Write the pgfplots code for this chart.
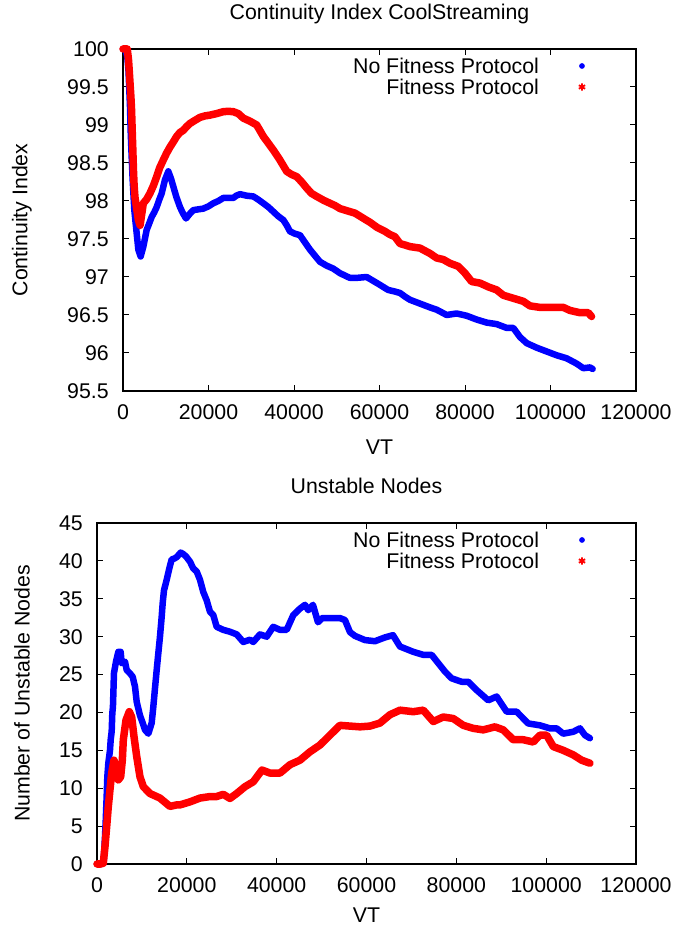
\documentclass[border=0pt]{standalone}
\usepackage{fontspec}
\setmainfont{Liberation Sans}
\usepackage{pgfplots}
\pgfplotsset{compat=1.18}

\pgfplotsset{
  gp/.style={
    scale only axis, clip=false,
    axis line style={line width=1.1bp, black},
    every tick/.style={line width=1bp, black},
    major tick length=6bp,
    tick align=inside,
    xmin=0, xmax=120000, xtick distance=20000,
    scaled x ticks=false,
    /pgf/number format/assume math mode=true,
    xticklabel style={/pgf/number format/fixed, /pgf/number format/precision=0,
      /pgf/number format/1000 sep={}, yshift=-6bp},
    yticklabel style={/pgf/number format/fixed, xshift=-7bp},
    title style={at={(axis description cs:0.5,1)}, anchor=base, yshift=24bp},
    legend cell align=right,
    legend plot pos=right,
    legend image code/.code={\path[draw=none, fill=none] (0bp,0bp) rectangle (48bp,0.1bp);
      \draw[##1] plot coordinates {(40bp,0bp)};},
    legend style={draw=none, fill=none, anchor=north east, inner sep=0pt, outer sep=0pt,
      row sep=0pt, nodes={inner xsep=3bp, inner ysep=3bp, text height=15bp, text depth=0pt}},
  },
  noline/.style={blue, line width=6.5bp, line join=round, line cap=round, forget plot},
  fline/.style={red, line width=7.5bp, line join=round, line cap=round, forget plot},
}

\begin{document}
\fontsize{21.3bp}{25bp}\selectfont
\begin{tikzpicture}
\useasboundingbox (0,0) rectangle (678bp,930bp);

% ---------------- top: continuity index ----------------
\begin{axis}[gp,
  at={(123bp,539bp)}, anchor=south west,
  width=513bp, height=342bp,
  ymin=95.5, ymax=100, ytick distance=0.5,
  title={Continuity Index CoolStreaming},
  xlabel={VT}, ylabel={Continuity Index},
  xlabel style={at={(axis description cs:0.5,0)}, anchor=center, yshift=-56bp},
  ylabel style={at={(axis description cs:-0.197,0.5)}, anchor=center},
  legend style={at={(axis description cs:0.9103,0.981)}},
]
\addlegendimage{blue, mark=*, mark size=2.6bp}
\addlegendentry{No Fitness Protocol}
\addlegendimage{red, mark=asterisk, mark size=3.6bp, line width=1.8bp}
\addlegendentry{Fitness Protocol}

\addplot[noline] table {
0 100
500 100
1000 99.9
1300 99.7
1480 99.46
1640 99.24
1790 98.93
2030 98.58
2260 98.28
2650 97.88
3120 97.62
3590 97.36
4130 97.27
4760 97.4
5540 97.62
6100 97.7
6710 97.79
7300 97.85
7880 97.92
8500 98.02
9050 98.1
9820 98.28
10600 98.39
11200 98.3
11770 98.19
12500 98.05
13330 97.92
14000 97.84
14740 97.77
15600 97.83
16450 97.88
17600 97.89
18790 97.9
20000 97.93
21120 97.97
22300 98.0
23460 98.04
24600 98.04
25800 98.04
26500 98.07
27370 98.09
28900 98.07
30480 98.06
31600 98.02
32820 97.97
34000 97.92
35160 97.86
36300 97.8
37500 97.75
38300 97.68
39060 97.6
40200 97.57
41400 97.55
42500 97.46
43740 97.36
44900 97.28
46080 97.2
47600 97.15
49200 97.11
50760 97.05
53000 96.99
55000 96.99
57000 97.0
58500 96.95
60000 96.9
62000 96.83
63500 96.81
64790 96.79
66000 96.74
67130 96.7
69470 96.65
71800 96.6
73370 96.57
75710 96.5
78050 96.52
80390 96.49
82730 96.44
85070 96.4
87400 96.38
89750 96.33
91300 96.33
92860 96.21
94420 96.13
96760 96.07
99100 96.02
101440 95.97
103780 95.93
106120 95.86
107670 95.8
109230 95.81
109860 95.79
};

\addplot[fline] table {
0 100
500 100
1000 100
1300 99.85
1500 99.68
1700 99.5
1850 99.37
2000 99.2
2150 98.93
2300 98.67
2450 98.4
2600 98.2
2800 98.05
3200 97.9
3600 97.75
4000 97.68
4750 97.97
5500 98.02
6300 98.1
7100 98.2
7880 98.32
8600 98.44
9430 98.54
10200 98.63
11000 98.71
11800 98.78
12560 98.85
13300 98.9
14100 98.93
14900 98.98
15670 99.02
16800 99.06
18000 99.1
19200 99.12
20350 99.13
21900 99.15
23460 99.175
24600 99.18
25800 99.175
26970 99.15
28140 99.09
29700 99.05
31270 99.0
32000 98.93
32820 98.85
34000 98.76
35160 98.67
36700 98.54
38290 98.39
39400 98.35
40630 98.32
41800 98.25
42970 98.17
44100 98.1
45300 98.06
46900 98.01
48420 97.97
49600 97.94
50760 97.9
52500 97.87
54270 97.84
56000 97.78
57770 97.72
59500 97.65
61280 97.6
62400 97.56
63600 97.53
64790 97.44
66000 97.42
67130 97.4
69470 97.38
71800 97.31
73370 97.25
74920 97.23
76490 97.18
78430 97.14
80000 97.05
81560 96.94
83500 96.92
85450 96.87
87400 96.83
88950 96.76
91300 96.72
93630 96.68
95200 96.62
97540 96.6
100650 96.6
103000 96.6
104550 96.56
106900 96.53
108830 96.53
109600 96.48
};
\end{axis}

% ---------------- bottom: unstable nodes ----------------
\begin{axis}[gp,
  at={(97bp,66bp)}, anchor=south west,
  width=539bp, height=341bp,
  ymin=0, ymax=45, ytick distance=5,
  title={Unstable Nodes},
  xlabel={VT}, ylabel={Number of Unstable Nodes},
  xlabel style={at={(axis description cs:0.5,0)}, anchor=center, yshift=-51.5bp},
  ylabel style={at={(axis description cs:-0.139,0.5)}, anchor=center},
  legend style={at={(axis description cs:0.9147,0.981)}},
]
\addlegendimage{blue, mark=*, mark size=2.6bp}
\addlegendentry{No Fitness Protocol}
\addlegendimage{red, mark=asterisk, mark size=3.6bp, line width=1.8bp}
\addlegendentry{Fitness Protocol}

\addplot[noline] table {
0 0
1000 0
1500 0.5
1780 3.6
1950 5.8
2150 8.9
2300 11.5
2520 13.3
2890 15.0
3050 16.4
3270 17.5
3410 19.9
3550 20.75
3630 22.3
3780 25.2
4230 26.7
4750 28.0
5270 28.0
5500 26.5
6230 26.7
6610 25.6
7350 25.15
7950 24.7
8460 23.4
8840 21.4
9570 19.6
10300 18.4
10690 17.7
11430 17.2
12170 18.6
12540 20.75
12910 23.2
13290 25.6
13650 27.8
14020 30.0
14400 32.6
14620 34.4
14910 36.1
15510 37.5
16100 39.0
16620 40.2
17200 40.3
17740 40.5
18200 40.8
18630 41.1
19200 40.9
19810 40.6
20700 39.9
21440 39.0
22190 38.6
22930 37.5
23660 35.9
24420 34.8
25150 33.3
25890 32.85
26640 31.3
28110 30.9
29600 30.65
31100 30.3
32570 29.3
34060 29.6
34790 29.3
36280 30.3
37780 30.0
39240 31.3
40740 30.9
42230 30.9
43700 32.85
45190 33.7
46300 34.2
47040 33.5
48080 34.2
49200 31.9
50100 32.45
51870 32.45
54090 32.45
55200 32.2
56320 30.6
57430 30.1
59660 29.55
61880 29.4
64110 29.9
65890 30.2
67450 28.7
70410 28.0
72640 27.6
74500 27.6
75980 26.5
77460 25.4
78950 24.5
81180 24.05
82650 24.05
84520 22.95
87100 21.6
88970 22.1
91200 20.1
93420 20.1
96000 18.55
98610 18.3
100840 17.9
102330 17.9
103800 17.2
106030 17.45
107520 17.9
108630 17.0
109740 16.6
};

\addplot[fline] table {
0 0
800 0
1400 0.1
1780 2.3
2150 4.9
2520 7.6
2890 9.8
3270 12.0
3780 13.7
4230 12.8
4750 11.1
5270 11.5
5640 13.7
5860 16.4
6460 19.0
7190 20.1
7720 19.4
8240 16.8
8840 14.2
9570 11.5
10310 10.2
11800 9.3
14020 8.7
16250 7.6
17740 7.8
18480 7.8
20700 8.2
22930 8.7
25150 8.9
26640 8.9
28110 9.2
29600 8.65
31100 9.3
32940 10.2
34790 10.85
36730 12.4
38510 12.0
40740 12.0
42960 13.1
45190 13.7
47410 14.8
49640 15.7
51870 17.0
54090 18.3
56320 18.2
58540 18.1
60770 18.2
62990 18.6
65220 19.7
67450 20.3
70410 20.1
72640 20.3
74870 18.8
77090 19.4
79310 19.2
81540 18.3
83770 17.9
85990 17.7
88600 18.1
90440 17.7
92670 16.4
94890 16.4
97120 16.1
98610 17.0
100100 17.0
101570 15.5
103800 15.0
106030 14.4
107890 13.7
109740 13.3
};
\end{axis}
\end{tikzpicture}
\end{document}
